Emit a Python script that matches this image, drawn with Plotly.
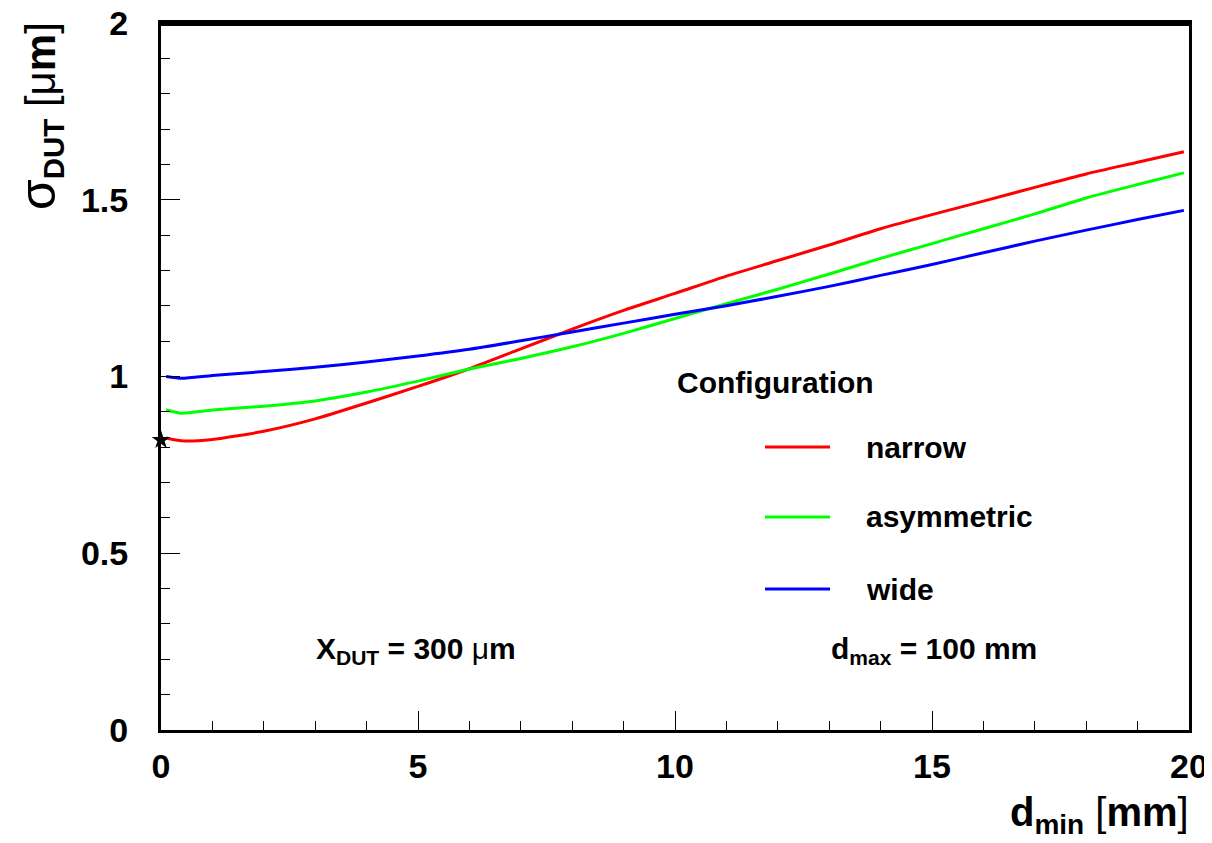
import plotly.graph_objects as go

# ---- data ----
d_min = [0.1, 0.4, 1, 2, 3, 4, 5, 6, 7, 8, 9, 10, 11, 12, 13, 14, 15, 16, 17, 18, 19, 19.9]
narrow = [0.826, 0.818, 0.822, 0.845, 0.880, 0.925, 0.972, 1.022, 1.078, 1.134, 1.187, 1.235,
          1.284, 1.328, 1.372, 1.418, 1.458, 1.496, 1.535, 1.573, 1.606, 1.636]
asymmetric = [0.906, 0.896, 0.905, 0.916, 0.931, 0.956, 0.987, 1.021, 1.051, 1.084, 1.122, 1.164,
              1.206, 1.247, 1.290, 1.334, 1.376, 1.418, 1.460, 1.505, 1.543, 1.576]
wide = [1.000, 0.995, 1.003, 1.014, 1.026, 1.041, 1.058, 1.077, 1.101, 1.126, 1.151, 1.176,
        1.200, 1.227, 1.255, 1.286, 1.317, 1.350, 1.383, 1.414, 1.444, 1.470]
star_x = [0.0]
star_y = [0.82]

series_names = ["narrow", "asymmetric", "wide"]
series_colors = ["#ff0000", "#00ff00", "#0000ff"]

x_tickvals = [0, 5, 10, 15, 20]
x_ticktext = ["0", "5", "10", "15", "20"]
y_tickvals = [0, 0.5, 1, 1.5, 2]
y_ticktext = ["0", "0.5", "1", "1.5", "2"]

# ---- geometry (pixels in the screenshot; page body adds an 8px offset) ----
W, H = 1212, 843
OFF = 8
L, R, T, B = 161, 1189, 23, 730
PW, PH = R - L, B - T


def px(xp):
    return (xp - L) / PW


def py(yp):
    return (B - yp) / PH


FONT = "Liberation Sans, Arial, Helvetica, sans-serif"

fig = go.Figure()
for name, ys, col in zip(series_names, [narrow, asymmetric, wide], series_colors):
    fig.add_trace(go.Scatter(x=d_min, y=ys, mode="lines", name=name,
                             line=dict(color=col, width=3, shape="spline", smoothing=0.6),
                             showlegend=False))

fig.add_trace(go.Scatter(x=star_x, y=star_y, mode="markers", showlegend=False,
                         marker=dict(symbol="star", size=14, color="black"),
                         cliponaxis=False))

axis_common = dict(showgrid=False, zeroline=False, showline=True, linecolor="black",
                   linewidth=3, mirror=True, ticks="inside", tickcolor="black",
                   tickwidth=1, ticklen=19, automargin=False, ticklabeloverflow="allow",
                   tickfont=dict(family=FONT, size=34, color="black", weight="bold"))

fig.update_xaxes(range=[0, 20], tickvals=x_tickvals, ticktext=x_ticktext,
                 minor=dict(dtick=1, tick0=0, ticks="inside", ticklen=9, tickwidth=1,
                            tickcolor="black"),
                 ticklabelstandoff=4, **axis_common)
fig.update_yaxes(range=[0, 2], tickvals=y_tickvals, ticktext=y_ticktext,
                 minor=dict(dtick=0.1, tick0=0, ticks="inside", ticklen=9, tickwidth=1,
                            tickcolor="black"),
                 ticklabelstandoff=23, **axis_common)

annotations = []


def add_text(text, xp, yp, size=30, xanchor="left", yanchor="middle", angle=0):
    annotations.append(dict(text=text, x=px(xp), y=py(yp), xref="paper", yref="paper",
                            xanchor=xanchor, yanchor=yanchor, showarrow=False,
                            textangle=angle,
                            font=dict(family=FONT, size=size, color="black")))


# axis titles
add_text("<b>d<sub>min</sub></b> [<b>mm</b>]", 1191, 815, size=40, xanchor="right")
add_text("<span style=\"font-size:50px\">σ</span><sub><b>DUT</b></sub> [μ<b>m</b>]",
         40, 20, size=42, xanchor="center", yanchor="top", angle=-90)

# text labels
add_text("<b>X<sub>DUT</sub> = 300 </b>μ<b>m</b>", 314, 650)
add_text("<b>d<sub>max</sub> = 100 mm</b>", 829, 650)

# legend
add_text("<b>Configuration</b>", 675, 382)
shapes = [dict(type="line", xref="paper", yref="paper", x0=px(L - 1), x1=px(R + 1),
               y0=py(T + 1.5), y1=py(T + 1.5),
               line=dict(color="black", width=3), layer="above")]
for name, col, ly in zip(series_names, series_colors, [447, 517, 589]):
    shapes.append(dict(type="line", xref="paper", yref="paper", x0=px(765), x1=px(830),
                       y0=py(ly), y1=py(ly), line=dict(color=col, width=3)))
    add_text("<b>%s</b>" % name, 864, ly)

fig.update_layout(width=W - OFF, height=H - 2 * OFF,
                  margin=dict(l=L - OFF, r=W - R, t=T - OFF, b=H - OFF - B),
                  plot_bgcolor="white", paper_bgcolor="white",
                  annotations=annotations, shapes=shapes, showlegend=False)

fig.write_html("out.html")
